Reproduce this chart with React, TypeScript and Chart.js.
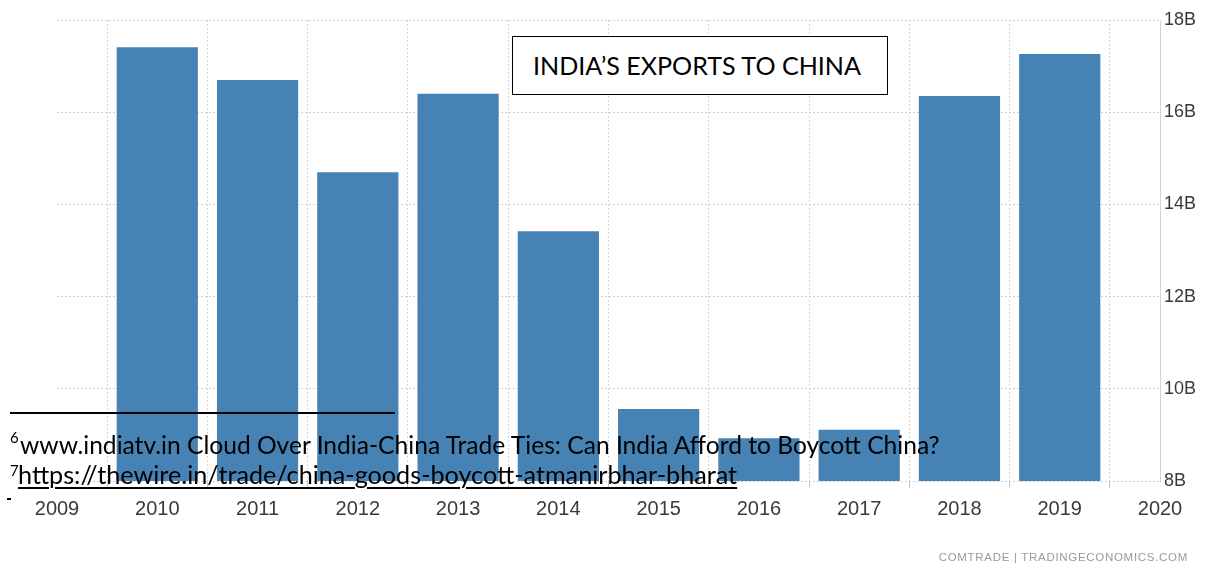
import React, { useEffect, useRef } from "react";
import { Chart, registerables } from "chart.js";

Chart.register(...registerables);

const years = ["2009", "2010", "2011", "2012", "2013", "2014", "2015", "2016", "2017", "2018", "2019", "2020"];
const exportsB: (number | null)[] = [null, 17.41, 16.7, 14.7, 16.4, 13.42, 9.56, 8.93, 9.11, 16.35, 17.26, null];
const yTicks = [8, 10, 12, 14, 16, 18];
const title = "INDIA\u2019S EXPORTS TO CHINA";
const note6 = "www.indiatv.in Cloud Over India-China Trade Ties: Can India Afford to Boycott China?";
const note7 = "https://thewire.in/trade/china-goods-boycott-atmanirbhar-bharat";
const source = "COMTRADE | TRADINGECONOMICS.COM";

const noteFont = "Lato, 'Open Sans', sans-serif";
const axisFont = "'Liberation Sans', Arial, sans-serif";

export default function App() {
  const ref = useRef<HTMLCanvasElement | null>(null);
  useEffect(() => {
    if (!ref.current) return;
    const chart = new Chart(ref.current, {
      type: "bar",
      data: {
        labels: years,
        datasets: [
          {
            data: exportsB,
            backgroundColor: "#4682b4",
            borderWidth: 0,
            barPercentage: 0.81,
            categoryPercentage: 1,
          },
        ],
      },
      options: {
        animation: false,
        responsive: false,
        maintainAspectRatio: false,
        layout: { padding: { left: 57, top: 20, right: 0, bottom: 0 } },
        plugins: { legend: { display: false }, tooltip: { enabled: false } },
        scales: {
          x: {
            offset: false,
            grid: {
              display: true,
              color: "#d4d4d4",
              lineWidth: 1,
              tickLength: 7,
              tickColor: "#c4c4c4",
              drawTicks: true,
            },
            border: { display: false, dash: [2, 2] },
            ticks: {
              color: "#3a3a3a",
              font: { family: axisFont, size: 20 },
              padding: 9,
              maxRotation: 0,
              autoSkip: false,
            },
            afterFit: (s: any) => {
              s.height = 84;
            },
          },
          y: {
            position: "right",
            min: 8,
            max: 18,
            afterBuildTicks: (s: any) => {
              s.ticks = yTicks.map((v) => ({ value: v }));
            },
            grid: { color: "#cfcfcf", lineWidth: 1, drawTicks: false },
            border: { display: true, color: "#d4d4d4", dash: [2, 2] },
            ticks: {
              color: "#3a3a3a",
              font: { family: axisFont, size: 18 },
              padding: 4,
              callback: (v: any) => v + "B",
            },
            afterFit: (s: any) => {
              s.width = 45;
            },
          },
        },
      },
    } as any);
    return () => chart.destroy();
  }, []);

  return (
    <div style={{ position: "fixed", left: 0, top: 0, width: 1205, height: 565, background: "#fff", overflow: "hidden" }}>
      <canvas ref={ref} width={1205} height={565} style={{ position: "absolute", left: 0, top: 0, width: 1205, height: 565 }} />
      <div
        style={{
          position: "absolute",
          left: 512,
          top: 36,
          width: 374,
          height: 57,
          border: "1px solid #000",
          background: "#fff",
          boxSizing: "content-box",
        }}
      />
      <div
        style={{
          position: "absolute",
          left: 533,
          top: 50,
          fontFamily: noteFont,
          fontSize: 25.1,
          lineHeight: "31px",
          color: "#000",
          whiteSpace: "nowrap",
        }}
      >
        {title}
      </div>
      <div style={{ position: "absolute", left: 10, top: 412, width: 385, height: 2, background: "#000" }} />
      <div style={{ position: "absolute", left: 10, top: 428, fontFamily: noteFont, fontSize: 15, lineHeight: "18px", color: "#000" }}>6</div>
      <div
        style={{
          position: "absolute",
          left: 20,
          top: 430,
          fontFamily: noteFont,
          fontSize: 24.6,
          lineHeight: "30px",
          color: "#000",
          whiteSpace: "nowrap",
        }}
      >
        {note6}
      </div>
      <div style={{ position: "absolute", left: 10, top: 461, fontFamily: noteFont, fontSize: 15, lineHeight: "18px", color: "#000" }}>7</div>
      <div
        style={{
          position: "absolute",
          left: 18,
          top: 459,
          fontFamily: noteFont,
          fontSize: 25.2,
          lineHeight: "30px",
          color: "#000",
          whiteSpace: "nowrap",
          textDecoration: "underline",
          textDecorationThickness: 2,
          textUnderlineOffset: 3,
        }}
      >
        {note7}
      </div>
      <div style={{ position: "absolute", left: 7, top: 498, width: 4, height: 2, background: "#000" }} />
      <div
        style={{
          position: "absolute",
          right: 17,
          top: 551,
          fontFamily: axisFont,
          fontSize: 11.5,
          letterSpacing: 0.7,
          color: "#9a9a9a",
          whiteSpace: "nowrap",
        }}
      >
        {source}
      </div>
    </div>
  );
}
